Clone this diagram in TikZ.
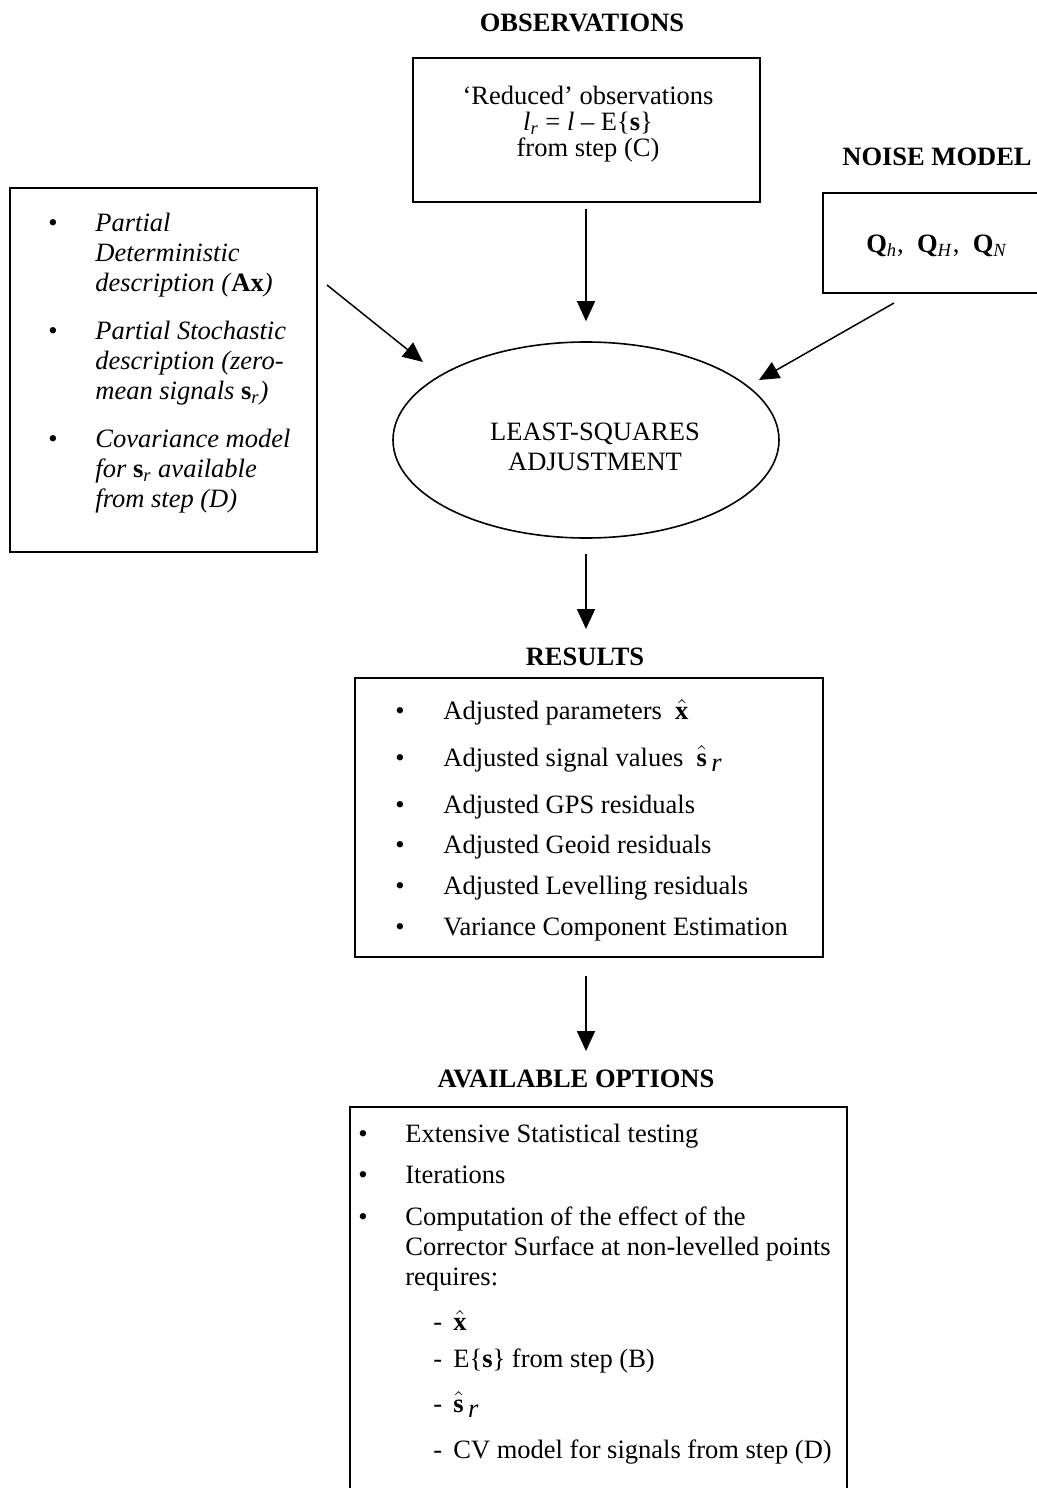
\documentclass[tikz,border=0pt]{standalone}
\usepackage{fontspec}
\setmainfont{Liberation Serif}
\usetikzlibrary{arrows.meta,shapes.geometric}
\newcommand{\bodyfont}{\fontsize{13.25}{15}\selectfont}
\newcommand{\hatbx}{\ensuremath{\hat{\textbf{x}}}}
\newcommand{\hatbs}{\ensuremath{\hat{\textbf{s}}}\,\raisebox{-2.5pt}{\textit{r}}}
\tikzset{
  boxstyle/.style={draw, line width=1pt, rectangle, inner sep=0pt},
  ellstyle/.style={draw, line width=0.8pt, ellipse, inner sep=0pt},
  txt/.style={inner sep=0pt, anchor=base west, font=\bodyfont},
  ctxt/.style={inner sep=0pt, anchor=base, font=\bodyfont},
  ttl/.style={inner sep=0pt, anchor=base, font=\bodyfont\bfseries},
  arr/.style={line width=0.75pt, -{Triangle[length=10pt, width=9pt]}}
}
\begin{document}
\begin{tikzpicture}[x=0.5pt, y=-0.5pt]
\useasboundingbox (0,0) rectangle (1037,1488);
\clip (0,0) rectangle (1037,1488);
\fill[white] (0,0) rectangle (1037,1488);

% titles
\node[ttl] (tobs) at (582,32) {OBSERVATIONS};
\node[ttl] (tnoise) at (937,165) {NOISE MODEL};
\node[ttl] (tres) at (585,665) {RESULTS};
\node[ttl] (topt) at (576,1087) {AVAILABLE OPTIONS};

% observation box
\node[boxstyle, minimum width=173.5pt, minimum height=72pt] (obs) at (586.5,130) {};
\node[ctxt] (o1) at (588,104) {`Reduced' observations};
\node[ctxt] (o2) at (588,130) {\textit{l}\textsubscript{\textit{r}} = \textit{l} -- E\{\textbf{s}\}};
\node[ctxt] (o3) at (588,156) {from step (C)};

% noise box
\node[boxstyle, minimum width=138.5pt, minimum height=50pt] (noise) at (961.5,243) {};
\node[ctxt] (n1) at (937,252) {\textbf{Q}\textsubscript{\textit{h}}, \ \textbf{Q}\textsubscript{\textit{H}}, \ \textbf{Q}\textsubscript{\textit{N}}};

% left box
\node[boxstyle, minimum width=153.5pt, minimum height=182pt] (lbox) at (163.5,370) {};
\node[txt] (lb1) at (48,231) {\textbullet};
\node[txt] (lb2) at (48,339) {\textbullet};
\node[txt] (lb3) at (48,447) {\textbullet};
\node[txt] (l1) at (95,231) {\textit{Partial}};
\node[txt] (l2) at (95,261) {\textit{Deterministic}};
\node[txt] (l3) at (95,291) {\textit{description (}\textbf{Ax}\textit{)}};
\node[txt] (l4) at (95,339) {\textit{Partial Stochastic}};
\node[txt] (l5) at (95,369) {\textit{description (zero-}};
\node[txt] (l6) at (95,399) {\textit{mean signals }\textbf{s}\textsubscript{\textit{r}}\textit{)}};
\node[txt] (l7) at (95,447) {\textit{Covariance model}};
\node[txt] (l8) at (95,477) {\textit{for }\textbf{s}\textsubscript{\textit{r}}\textit{ available}};
\node[txt] (l9) at (95,507) {\textit{from step (D)}};

% ellipse
\node[ellstyle, minimum width=193pt, minimum height=98pt] (ell) at (586,440) {};
\node[ctxt] (e1) at (595,440) {LEAST-SQUARES};
\node[ctxt] (e2) at (595,470) {ADJUSTMENT};

% results box
\node[boxstyle, minimum width=234pt, minimum height=139.5pt] (res) at (589,817.5) {};
\foreach \yy/\nm in {719/r1,766/r2,813/r3,853/r4,894/r5,935/r6}
  \node[txt] (b\nm) at (395,\yy) {\textbullet};
\node[txt] (r1) at (443,719) {Adjusted parameters \ \hatbx};
\node[txt] (r2) at (443,766) {Adjusted signal values \ \hatbs};
\node[txt] (r3) at (443,813) {Adjusted GPS residuals};
\node[txt] (r4) at (443,853) {Adjusted Geoid residuals};
\node[txt] (r5) at (443,894) {Adjusted Levelling residuals};
\node[txt] (r6) at (443,935) {Variance Component Estimation};

% options box
\node[boxstyle, minimum width=248.5pt, minimum height=211.5pt] (opt) at (598.5,1318.5) {};
\foreach \yy/\nm in {1142/p1,1183/p2,1225/p3}
  \node[txt] (b\nm) at (358,\yy) {\textbullet};
\node[txt] (p1) at (405,1142) {Extensive Statistical testing};
\node[txt] (p2) at (405,1183) {Iterations};
\node[txt] (p3) at (405,1225) {Computation of the effect of the};
\node[txt] (p4) at (405,1255) {Corrector Surface at non-levelled points};
\node[txt] (p5) at (405,1285) {requires:};
\foreach \yy/\nm in {1330/d1,1367/d2,1412/d3,1458/d4}
  \node[txt] (\nm) at (433,\yy) {-};
\node[txt] (q1) at (453,1330) {\hatbx};
\node[txt] (q2) at (453,1367) {E\{\textbf{s}\} from step (B)};
\node[txt] (q3) at (453,1412) {\hatbs};
\node[txt] (q4) at (453,1458) {CV model for signals from step (D)};

% arrows
\coordinate (a1s) at (327,285);
\coordinate (a1e) at (423,362);
\coordinate (a2s) at (894,303);
\coordinate (a2e) at (759,380);
\draw[arr] (a1s) -- (a1e);
\draw[arr] (a2s) -- (a2e);
\draw[arr, shorten <=3pt, shorten >=10pt] (obs.south -| ell.north) -- (ell.north);
\draw[arr, shorten <=7.5pt, shorten >=9pt] (ell.south) -- (tres.north -| ell.south);
\draw[arr, shorten <=9pt, shorten >=9pt] (res.south -| ell.south) -- (topt.north -| ell.south);
\end{tikzpicture}
\end{document}
